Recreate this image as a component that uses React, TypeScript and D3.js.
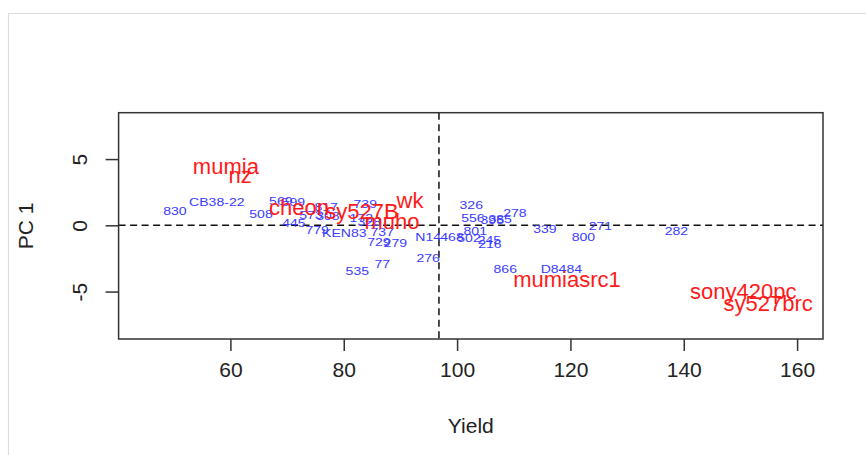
import React, { useRef, useEffect } from 'react';
import * as d3 from 'd3';

// genotype labels (blue) and check varieties (red): name, yield, PC 1
const blueNames = ['830', 'CB38-22', '508', '569', '599', '817', '573', '308', '445', '779', 'KEN83', '739', '172', '328', '737', '729', '279', 'N14', '535', '77', '276', '468', '801', '502', '326', '556', '395', '385', '278', '245', '216', '339', '800', '271', '282', '866', 'D8484'];
const blueYield = [50.2, 57.6, 65.4, 68.9, 71.1, 76.9, 74.2, 77.2, 71.2, 75.3, 80.1, 83.8, 83.1, 84.5, 86.8, 86.2, 89.1, 94.9, 82.4, 86.8, 94.9, 99.1, 103.2, 102.1, 102.5, 102.8, 106.2, 107.6, 110.2, 105.7, 105.8, 115.5, 122.3, 125.3, 138.7, 108.5, 118.4];
const bluePC1 = [1.08, 1.76, 0.85, 1.83, 1.76, 1.38, 0.78, 0.70, 0.17, -0.35, -0.58, 1.61, 0.55, 0.25, -0.51, -1.26, -1.34, -0.88, -3.45, -2.92, -2.47, -0.88, -0.43, -0.96, 1.53, 0.55, 0.40, 0.48, 0.93, -1.11, -1.41, -0.28, -0.88, -0.05, -0.43, -3.30, -3.30];

const redNames = ['mumia', 'nz', 'cheon', 'sy527B', 'wk', 'muho', 'mumiasrc1', 'sony420pc', 'sy527brc'];
const redYield = [59.2, 61.7, 72.1, 83.2, 91.7, 88.5, 119.4, 150.5, 154.9];
const redPC1 = [4.48, 3.80, 1.38, 1.08, 1.91, 0.32, -4.05, -4.96, -5.86];

const meanYield = 96.8;
const xTicks = [60, 80, 100, 120, 140, 160];
const yTicks = [-5, 0, 5];

function App() {
  const svgRef = useRef<SVGSVGElement>(null);

  useEffect(() => {
    const w = 866;
    const h = 455;
    const left = 118.6, right = 823, top = 112.7, bottom = 339;

    const svg = d3.select(svgRef.current)
      .attr('width', w)
      .attr('height', h);
    svg.selectAll('*').remove();

    // light frame around the figure
    svg.append('path')
      .attr('d', `M8.5,${h} V13.5 H${w}`)
      .attr('fill', 'none')
      .attr('stroke', '#dedede')
      .attr('stroke-width', 1.2);

    const x = d3.scaleLinear().domain([40.27, 164.57]).range([left, right]);
    const y = d3.scaleLinear().domain([-8.58, 8.5]).range([bottom, top]);

    const font = '"Liberation Sans", Arial, sans-serif';

    // axes
    const xAxis = d3.axisBottom(x).tickValues(xTicks).tickSize(12).tickSizeOuter(0).tickFormat(d => String(d));
    const gx = svg.append('g')
      .attr('transform', `translate(0, ${bottom})`)
      .call(xAxis);
    gx.select('.domain').remove();
    gx.selectAll('line').attr('stroke', '#333').attr('stroke-width', 1.5);
    gx.selectAll('text')
      .attr('font-family', font)
      .attr('font-size', 21)
      .attr('fill', '#222')
      .attr('dy', '0.71em')
      .attr('y', 23);

    const yAxis = d3.axisLeft(y).tickValues(yTicks).tickSize(13).tickSizeOuter(0).tickFormat(d => String(d));
    const gy = svg.append('g')
      .attr('transform', `translate(${left}, 0)`)
      .call(yAxis);
    gy.select('.domain').remove();
    gy.selectAll('line').attr('stroke', '#333').attr('stroke-width', 1.5);
    gy.selectAll('.tick text')
      .attr('font-family', font)
      .attr('font-size', 21)
      .attr('fill', '#222')
      .attr('x', 0)
      .attr('dy', 0)
      .attr('text-anchor', 'middle')
      .attr('transform', 'translate(-39, 0) rotate(-90) translate(0, 7.5)');

    // reference lines
    svg.append('line')
      .attr('x1', left).attr('x2', right)
      .attr('y1', y(0)).attr('y2', y(0))
      .attr('stroke', '#111').attr('stroke-width', 1.5)
      .attr('stroke-dasharray', '7,4.5');
    svg.append('line')
      .attr('x1', x(meanYield)).attr('x2', x(meanYield))
      .attr('y1', top).attr('y2', bottom)
      .attr('stroke', '#111').attr('stroke-width', 1.5)
      .attr('stroke-dasharray', '7,4.5');

    // box
    svg.append('rect')
      .attr('x', left).attr('y', top)
      .attr('width', right - left).attr('height', bottom - top)
      .attr('fill', 'none')
      .attr('stroke', '#333')
      .attr('stroke-width', 1.5);

    // blue labels (font looks horizontally stretched)
    svg.append('g')
      .selectAll('text')
      .data(blueNames)
      .join('text')
      .attr('transform', (d, i) => `translate(${x(blueYield[i])}, ${y(bluePC1[i])}) scale(1.28, 1)`)
      .attr('dy', '0.36em')
      .attr('text-anchor', 'middle')
      .attr('font-family', font)
      .attr('font-size', 11)
      .attr('fill', '#3b3bff')
      .text(d => d);

    svg.append('g')
      .selectAll('text')
      .data(redNames)
      .join('text')
      .attr('x', (d, i) => x(redYield[i]))
      .attr('y', (d, i) => y(redPC1[i]))
      .attr('dy', '0.36em')
      .attr('text-anchor', 'middle')
      .attr('font-family', font)
      .attr('font-size', 22)
      .attr('fill', '#ff1a1a')
      .text(d => d);

    // axis titles
    svg.append('text')
      .attr('x', (left + right) / 2)
      .attr('y', 433)
      .attr('text-anchor', 'middle')
      .attr('font-family', font)
      .attr('font-size', 21)
      .attr('fill', '#222')
      .text('Yield');

    svg.append('text')
      .attr('transform', `translate(33, ${(top + bottom) / 2}) rotate(-90)`)
      .attr('text-anchor', 'middle')
      .attr('font-family', font)
      .attr('font-size', 21)
      .attr('fill', '#222')
      .text('PC 1');
  }, []);

  return (
    <div style={{ position: 'absolute', left: 0, top: 0, background: '#fff' }}>
      <svg ref={svgRef} style={{ display: 'block' }}></svg>
    </div>
  );
}

export default App;
